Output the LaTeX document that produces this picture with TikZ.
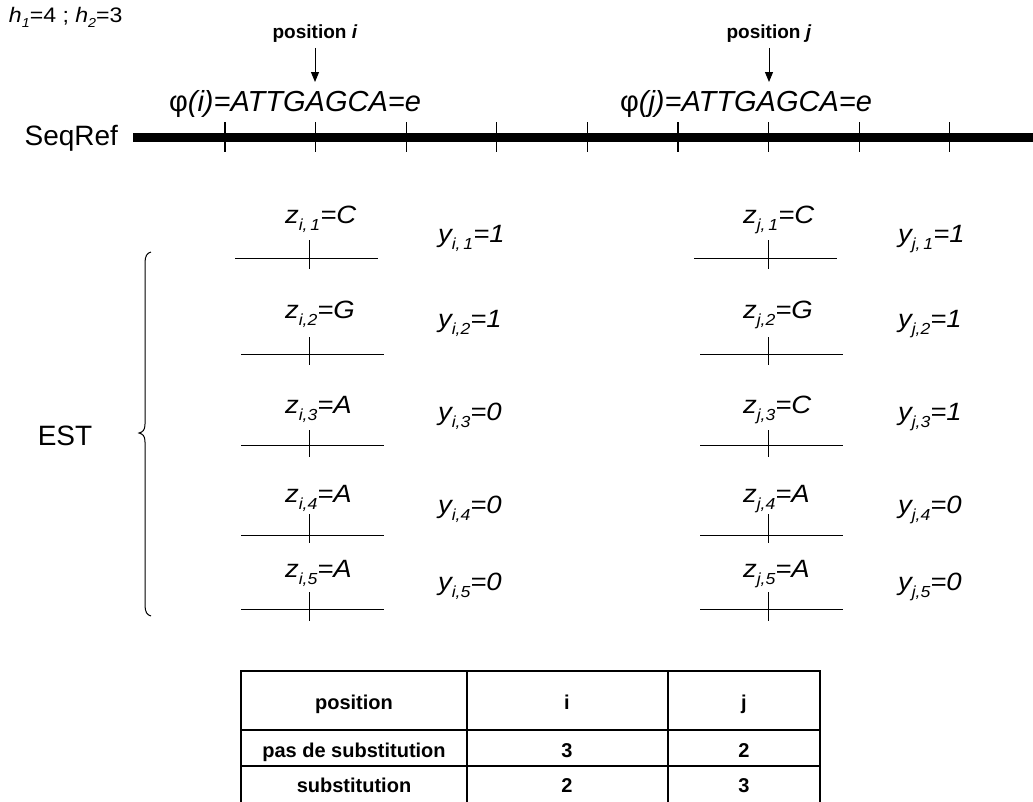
\documentclass[tikz,border=0pt]{standalone}
\usepackage{fontspec}
\setmainfont{Liberation Sans}
\usepackage{graphicx}
\usetikzlibrary{arrows.meta}
\newcommand\fsz[1]{\fontsize{#1}{#1}\selectfont}
\newcommand\lsub[1]{\raisebox{-7pt}{\fsz{16}#1}}
\newcommand\hsub[1]{\raisebox{-5pt}{\fsz{13}#1}}
\begin{document}
\begin{tikzpicture}[x=1pt,y=-1pt,
  txt/.style={inner sep=0pt, outer sep=0pt},
  thin line/.style={line width=0.9pt, black},
  arr/.style={-{Triangle[length=10pt,width=8pt]}, line width=1pt},
  tbl/.style={line width=1.5pt},
  tcell/.style={txt, font=\fsz{20}\bfseries, anchor=base}]
\useasboundingbox (0,0) rectangle (1033,801);

% header
\node[txt, anchor=base west] (h) at (9,22) {\fsz{21}\scalebox{1.1}[1]{\textit{h}\hsub{\textit{1}}=4 ; \textit{h}\hsub{\textit{2}}=3}};
\node[txt, anchor=base] (pi) at (315,38) {\fsz{19}\bfseries position \textit{i}};
\node[txt, anchor=base] (pj) at (769,38) {\fsz{19}\bfseries position \textit{j}};
\coordinate (ai) at (315,82);
\coordinate (aj) at (769,82);
\draw[arr] ([yshift=-6pt]pi.south) -- (ai);
\draw[arr] ([yshift=-6pt]pj.south) -- (aj);

\node[txt, anchor=base] (phii) at (295,111) {\fsz{29}φ\textit{(i)=ATTGAGCA=e}};
\node[txt, anchor=base] (phij) at (746,111) {\fsz{29}φ\textit{(j)=ATTGAGCA=e}};

% reference sequence
\node[txt, anchor=base east] (seq) at (118,145) {\fsz{28}SeqRef};
\coordinate (seqend) at (1040,137.5);
\draw[line width=9pt] ([xshift=15pt]seq.east |- seqend) -- (seqend);
\foreach \k in {0,...,8}
  \draw[line width=1.1pt] (225+\k*90.6,122) -- (225+\k*90.6,152);

% EST brace
\node[txt, anchor=base] (est) at (65,445) {\fsz{28}EST};
\draw[line width=1pt] (151,252) .. controls (147,253) and (145,256) .. (145,263)
  -- (145,424) .. controls (145,430) and (143,432) .. (139,433)
  .. controls (143,434) and (145,436) .. (145,442)
  -- (145,605) .. controls (145,612) and (147,615) .. (151,616);

% EST rows
\foreach \n/\sp/\dx/\ly/\tt/\tb/\zb/\yb/\zi/\yi/\zj/\yj in {
  1/{,\,}/0/258/240/269/223/242/C/1/C/1,
  2/{,}/6/354/337/365/318/327/G/1/G/1,
  3/{,}/6/445/430/457/413/420/A/0/C/1,
  4/{,}/6/535/514/543/502/513/A/0/A/0,
  5/{,}/6/609/592/621/577/590/A/0/A/0}{
  \draw[thin line] (235+\dx,\ly) -- (378+\dx,\ly);
  \draw[thin line] (309,\tt) -- (309,\tb);
  \draw[thin line] (694+\dx,\ly) -- (837+\dx,\ly);
  \draw[thin line] (768,\tt) -- (768,\tb);
  \node[txt, anchor=base west] (zi\n) at (285,\zb) {\fsz{25}\scalebox{1.1}[1]{\textit{z\lsub{\textit{i\sp\n}}=\zi}}};
  \node[txt, anchor=base west] (yi\n) at (438,\yb) {\fsz{25}\scalebox{1.1}[1]{\textit{y\lsub{\textit{i\sp\n}}=\yi}}};
  \node[txt, anchor=base west] (zj\n) at (743,\zb) {\fsz{25}\scalebox{1.1}[1]{\textit{z\lsub{\textit{j\sp\n}}=\zj}}};
  \node[txt, anchor=base west] (yj\n) at (898,\yb) {\fsz{25}\scalebox{1.1}[1]{\textit{y\lsub{\textit{j\sp\n}}=\yj}}};
}

% table
\draw[tbl] (241,810) -- (241,671) -- (820,671) -- (820,810);
\draw[tbl] (467,671) -- (467,810);
\draw[tbl] (668,671) -- (668,810);
\draw[tbl] (241,730) -- (820,730);
\draw[tbl] (241,766) -- (820,766);
\node[tcell] (t11) at (354,709) {position};
\node[tcell] (t12) at (567,709) {i};
\node[tcell] (t13) at (744,709) {j};
\node[tcell] (t21) at (354,757) {pas de substitution};
\node[tcell] (t22) at (567,757) {3};
\node[tcell] (t23) at (744,757) {2};
\node[tcell] (t31) at (354,792) {substitution};
\node[tcell] (t32) at (567,792) {2};
\node[tcell] (t33) at (744,792) {3};
\end{tikzpicture}
\end{document}
